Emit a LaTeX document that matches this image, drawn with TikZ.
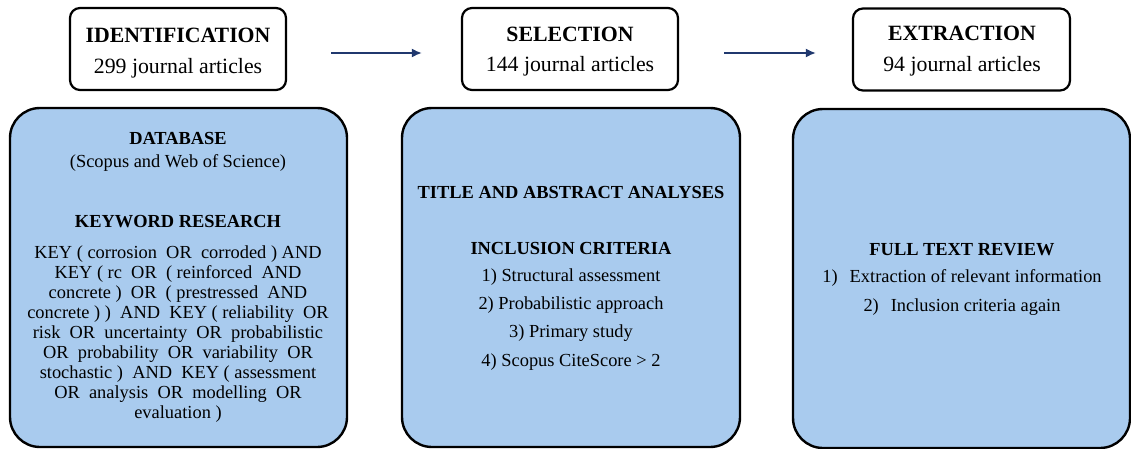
\documentclass[tikz,border=0pt]{standalone}
\usepackage{fontspec}
\setmainfont{Liberation Serif}
\usetikzlibrary{arrows.meta}
\definecolor{boxblue}{RGB}{169,203,238}
\definecolor{navy}{RGB}{32,56,110}
\tikzset{
  topbox/.style={draw=black, line width=2.2pt, rounded corners=10pt, fill=white,
    minimum width=#1, minimum height=82pt, inner sep=0pt},
  bigbox/.style={draw=black, line width=2.4pt, rounded corners=30pt, fill=boxblue,
    minimum width=#1, minimum height=339pt, inner sep=0pt},
  title/.style={font=\fontsize{21.8}{24}\selectfont\bfseries, inner sep=0pt},
  count/.style={font=\fontsize{21.8}{24}\selectfont, inner sep=0pt},
  head/.style={font=\fontsize{18.4}{20}\selectfont\bfseries, inner sep=0pt},
  body/.style={font=\fontsize{18.4}{20}\selectfont, inner sep=0pt, align=center},
  flow/.style={draw=navy, line width=1.8pt, -{Latex[length=10pt,width=9pt]}},
}
\begin{document}
\begin{tikzpicture}[x=1pt,y=-1pt]
\useasboundingbox (0,0) rectangle (1131,449);
% top boxes
\node[topbox=216pt] (id) at (178,49) {};
\node[topbox=216pt] (sel) at (570,49) {};
\node[topbox=217pt] (ext) at (961.5,49.5) {};
\node[title] (idt) at (178,35) {IDENTIFICATION};
\node[count] (idc) at (178,68) {299 journal articles};
\node[title] (selt) at (570,34) {SELECTION};
\node[count] (selc) at (570,66) {144 journal articles};
\node[title] (extt) at (962,33) {EXTRACTION};
\node[count] (extc) at (962,66) {94 journal articles};
% arrows
\draw[flow, shorten <=44pt, shorten >=39pt] (id.east |- 0,53) coordinate (a1) -- (sel.west |- 0,53) coordinate (a2);
\draw[flow, shorten <=45pt, shorten >=36pt] (sel.east |- 0,53) coordinate (b1) -- (ext.west |- 0,53) coordinate (b2);
% bottom boxes
\node[bigbox=337pt] (db) at (178.5,277.5) {};
\node[bigbox=338pt] (ta) at (571,277.5) {};
\node[bigbox=337pt] (ft) at (961.5,278.5) {};
% box 1
\node[head] (dbh) at (178,138) {DATABASE};
\node[body] (dbs) at (178,163) {(Scopus and Web of Science)};
\node[head] (kwh) at (178,222) {KEYWORD RESEARCH};
\node[body, anchor=north] (kw) at (178,245.5) {KEY ( corrosion\ \ OR\ \ corroded ) AND\\
KEY ( rc\ \ OR\ \ ( reinforced\ \ AND\\
concrete )\ \ OR\ \ ( prestressed\ \ AND\\
concrete ) )\ \ AND\ \ KEY ( reliability\ \ OR\\
risk\ \ OR\ \ uncertainty\ \ OR\ \ probabilistic\\
OR\ \ probability\ \ OR\ \ variability\ \ OR\\
stochastic )\ \ AND\ \ KEY ( assessment\\
OR\ \ analysis\ \ OR\ \ modelling\ \ OR\\
evaluation )};
% box 2
\node[head] (tah) at (571,192) {TITLE AND ABSTRACT ANALYSES};
\node[head] (ich) at (571,248) {INCLUSION CRITERIA};
\node[body] (ic1) at (571,277) {1) Structural assessment};
\node[body] (ic2) at (571,305) {2) Probabilistic approach};
\node[body] (ic3) at (571,333) {3) Primary study};
\node[body] (ic4) at (571,362) {4) Scopus CiteScore > 2};
% box 3
\node[head] (fth) at (962,250) {FULL TEXT REVIEW};
\node[body] (ft1) at (962,278) {1)\hspace{12pt}Extraction of relevant information};
\node[body] (ft2) at (962,307) {2)\hspace{12pt}Inclusion criteria again};
\end{tikzpicture}
\end{document}
